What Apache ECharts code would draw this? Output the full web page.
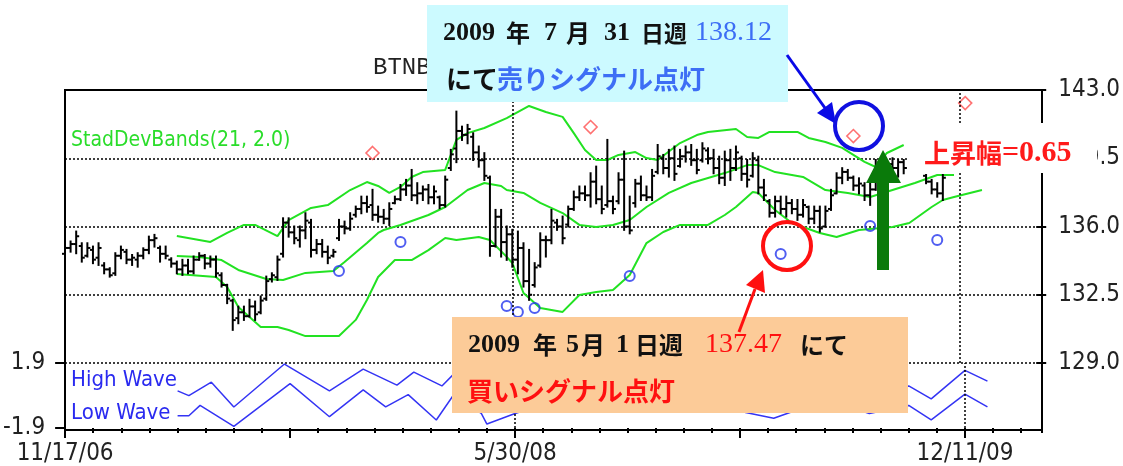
<!DOCTYPE html>
<html>
<head>
<meta charset="utf-8">
<script src="https://cdn.jsdelivr.net/npm/echarts@6/dist/echarts.min.js"></script>
<style>
  html, body { margin: 0; padding: 0; background: #fff; }
  #chart { width: 1123px; height: 466px; }
</style>
</head>
<body>
<div id="chart"></div>
<script>
// weekly bars, index = weeks since 11/17/06
const barOpen = [134.6,134.9,135.1,135.0,134.5,134.8,134.4,134.0,133.8,133.6,134.5,134.7,134.3,134.3,134.5,134.8,135.3,134.9,134.6,134.3,
  134.1,133.8,134.0,133.7,134.3,134.5,134.1,134.3,133.5,133.0,132.2,131.3,131.6,131.4,131.9,131.6,132.3,133.3,133.4,134.6,
  136.2,135.7,135.3,135.8,136.2,134.8,135.1,134.7,134.5,135.4,136.0,135.9,136.6,136.9,137.2,137.1,136.6,136.5,136.4,137.2,
  137.4,137.9,138.1,137.6,137.7,137.9,137.5,137.5,137.1,139.0,140.0,140.9,140.7,140.6,139.8,139.4,138.5,135.0,136.5,135.2,
  135.6,134.3,134.9,133.2,133.0,134.0,135.3,135.3,136.2,136.0,136.1,136.9,137.5,137.7,137.6,138.3,137.4,137.1,137.3,137.3,
  138.4,136.0,137.2,138.2,137.6,137.5,138.8,139.5,139.0,139.5,139.1,139.6,139.8,139.4,139.4,139.9,139.5,139.0,138.5,139.4,
  139.0,139.5,138.7,138.6,139.4,138.0,137.3,136.7,137.3,136.9,137.2,136.9,136.6,137.0,136.4,136.8,136.0,136.9,137.7,138.5,
  138.8,138.5,138.1,138.1,137.6,137.9,139.1,138.6,139.2,139.0,139.3,139.0,139.3,139.0,138.6,138.3,137.9,137.7];
const barHigh = [134.97,135.23,135.74,135.14,135.14,134.97,135.14,134.12,133.86,134.63,134.97,134.8,134.54,134.63,134.88,135.48,135.57,134.97,134.97,134.37,
  134.2,134.29,134.29,134.46,134.63,134.54,134.46,134.46,133.6,133.01,132.24,131.89,131.89,132.24,132.15,132.41,133.43,133.6,134.46,136.42,
  136.42,136.0,136.0,136.68,136.34,135.31,135.31,134.97,134.8,136.34,136.25,136.68,137.02,137.53,137.53,137.88,137.02,136.85,137.19,137.53,
  138.13,138.39,138.9,138.22,138.05,138.13,138.05,137.53,138.56,139.93,141.89,141.12,141.21,140.78,140.1,139.76,138.56,136.85,136.85,136.0,
  135.83,135.74,135.14,134.8,134.12,135.65,135.48,136.85,136.34,136.51,137.02,137.79,138.05,138.05,138.73,139.07,138.05,140.44,137.53,138.73,
  139.84,137.53,138.39,138.56,138.05,138.9,140.18,139.67,139.93,140.1,139.93,140.1,140.18,139.93,140.27,140.01,139.93,139.58,139.84,139.93,
  140.1,139.58,139.41,139.76,139.58,138.39,137.36,137.53,137.53,137.53,137.36,137.36,137.36,137.02,137.02,137.02,137.02,137.88,138.73,138.99,
  138.9,138.56,138.47,138.22,138.22,139.41,139.5,139.41,139.5,139.41,139.41,139.5,139.41,139.33,138.64,138.39,138.22,138.64];
const barLow = [134.46,134.71,134.63,134.2,134.46,134.12,134.03,133.6,133.43,133.52,134.37,134.12,134.03,133.94,134.37,134.63,134.97,134.2,134.37,133.94,
  133.6,133.52,133.6,133.6,134.29,133.86,133.94,133.43,132.92,132.07,130.7,131.04,131.21,131.38,131.21,131.55,132.24,133.18,133.26,134.46,
  135.48,135.14,134.97,135.4,134.46,134.63,134.46,134.12,134.46,135.31,135.65,135.83,136.51,136.68,136.76,136.34,136.25,136.17,136.08,137.19,
  137.36,137.62,137.36,137.19,137.36,137.19,137.19,136.94,137.02,138.9,139.3,140.44,140.27,139.41,139.07,138.39,134.5,134.97,134.46,134.29,
  133.94,133.6,132.92,132.24,132.92,133.94,134.46,135.14,135.83,135.14,136.0,136.85,137.36,137.36,137.02,137.19,136.68,137.02,136.68,137.19,
  135.83,135.65,137.02,137.36,137.36,137.36,138.73,138.73,138.56,138.39,139.07,139.33,139.16,138.73,139.33,139.24,138.73,138.22,138.13,138.39,
  138.9,138.39,138.05,138.56,137.7,137.36,136.51,136.51,136.68,136.51,136.68,136.34,136.51,136.17,136.17,135.74,136.0,136.85,137.7,138.22,
  138.39,137.88,137.7,137.36,137.11,137.88,138.05,138.22,138.82,138.56,138.73,138.9,138.82,138.82,138.22,137.7,137.53,137.36];
const barClose = [134.9,135.1,135.5,134.4,134.9,134.3,134.9,133.8,133.5,134.5,134.8,134.3,134.4,134.5,134.8,135.3,135.4,134.6,134.5,134.1,
  133.8,134.0,133.7,134.3,134.5,134.1,134.3,133.6,133.0,132.3,131.2,131.6,131.4,131.9,131.5,132.2,133.2,133.5,134.3,136.2,
  135.7,135.4,135.8,136.3,134.8,135.1,134.7,134.4,134.7,136.0,135.9,136.4,136.9,137.2,137.0,136.6,136.5,136.4,136.9,137.4,
  137.9,138.1,137.6,137.7,137.9,137.5,137.8,137.1,138.4,139.7,140.9,140.7,141.0,139.8,139.4,138.6,135.0,136.5,135.2,135.6,
  134.3,134.9,133.2,132.5,133.9,135.3,135.3,136.3,136.0,135.4,136.9,137.5,137.7,137.6,138.3,137.4,136.9,137.3,136.9,138.4,
  136.0,135.8,138.2,137.6,137.5,138.6,139.6,139.0,139.5,138.7,139.6,139.8,139.4,138.9,140.0,139.5,139.0,138.5,139.4,139.0,
  139.8,138.7,138.4,139.5,138.0,137.6,136.7,137.3,136.9,137.2,136.9,136.6,137.1,136.4,136.8,135.9,136.8,137.6,138.5,138.8,
  138.5,138.1,138.2,137.6,137.9,139.1,138.6,139.2,139.0,139.3,139.0,139.3,139.0,138.9,138.3,137.9,137.7,138.5];

// StadDevBands(21, 2.0): [week, price]
const upperBand = [[20,135.51],[26,135.21],[29,135.67],[32,136.08],[34,136.08],[38,135.51],[40,136.33],[44,136.95],[47,137.1],[51,137.87],
  [54,138.28],[56,138.08],[58,137.72],[60,138.03],[62,138.54],[64,138.79],[68,138.9],[70,140.44],[72,140.79],[75,141.05],[79,141.56],
  [83,142.18],[86,141.87],[89,141.62],[91,140.79],[93,139.92],[95,139.41],[97,139.41],[99,139.67],[102,139.82],[104,139.51],[106,139.41],
  [110,140.28],[113,140.69],[115,140.85],[120,141.0],[122,140.59],[124,140.54],[126,140.85],[131,140.85],[133,140.54],[136,140.33],
  [139,140.03],[141,139.67],[143,139.31],[145,139.05],[147,139.77],[150,140.18]];
const middleBand = [[20,134.49],[24,134.44],[28,134.28],[31,133.77],[36,133.31],[39,133.26],[43,133.62],[48,133.72],[50,134.18],[54,135.15],
  [56,135.67],[57,135.82],[60,136.08],[65,136.59],[68,137.0],[72,137.87],[75,138.23],[78,138.08],[79,137.87],[82,137.72],[85,137.21],
  [89,136.69],[92,136.08],[95,135.97],[98,136.08],[101,136.33],[104,137.0],[108,137.72],[112,138.23],[115,138.49],[118,138.74],[122,139.15],
  [124,139.15],[127,138.79],[132,138.54],[136,137.87],[140,137.72],[144,137.51],[148,137.87],[152,138.23],[156,138.64],[159,138.64]];
const lowerBand = [[20,133.56],[27,133.41],[29,132.9],[31,131.87],[35,130.85],[38,130.85],[40,130.69],[43,130.38],[49,130.38],[52,131.21],
  [54,132.23],[56,133.41],[59,134.28],[62,134.28],[65,134.79],[68,135.41],[70,135.31],[74,135.46],[76,135.31],[79,134.44],[80,134.13],
  [82,132.59],[85,131.82],[89,131.62],[92,132.49],[95,132.64],[98,132.74],[101,133.51],[104,135.15],[107,135.72],[110,136.08],[115,136.08],
  [118,136.59],[120,137.0],[123,137.77],[124,137.72],[127,136.85],[130,136.18],[135,135.67],[138,135.46],[142,135.82],[148,135.97],
  [151,136.18],[155,137.0],[157,137.36],[159,137.51],[164,137.87]];

// signals
const sellMarks = [[55,139.77],[94,141.1],[141,140.64],[161,142.33]];
const buyMarks = [[49,133.72],[60,135.21],[79,131.92],[81,131.62],[84,131.82],[101,133.46],[128,134.59],[144,136.03],[156,135.31]];

// lower panel
const highWave = [[20,0.27],[22,-0.01],[26,0.78],[30,-0.67],[39,1.84],[47,0.27],[53,1.54],[59,0.61],[62,1.37],[67,0.56],[69,1.22],
  [74,0.2],[75,-0.4],[80,0.2],[88,1.1],[96,0.2],[104,1.3],[112,0.5],[118,1.1],[121,0.3],[126,0.0],[130,0.4],[136,1.2],[143,0.2],
  [150,0.56],[154,-0.2],[160,1.47],[164,0.84]];
const lowWave = [[20,-1.18],[22,-1.18],[24,-0.58],[30,-1.8],[40,0.69],[47,-1.24],[53,0.33],[57,-0.67],[61,0.05],[66,-1.43],[69,0.0],
  [74,-1.05],[75,-1.67],[80,-1.05],[88,-0.2],[96,-0.8],[104,0.1],[112,-0.7],[118,-0.1],[121,-1.0],[126,-1.33],[130,-0.86],[136,-0.3],
  [143,-1.05],[150,-0.58],[154,-1.43],[160,0.08],[164,-0.67]];

const dateLabels = { 0: '11/17/06', 80: '5/30/08', 160: '12/11/09' };
const majorWeeks = [0, 40, 80, 120, 160];
const labelWeeks = [0, 80, 160];
const priceTicks = [129, 132.5, 136, 139.5, 143];
const waveTicks = [-1.9, 1.9];

const axisFont = "'DejaVu Sans Condensed', 'Liberation Sans Narrow', 'Liberation Sans', sans-serif";
const jpBold = "'Noto Sans CJK JP'";
const numSerif = "'Liberation Serif', 'Noto Sans CJK JP'";
const dotted = { color: '#000', type: [2, 2], width: 1.5 };
const weekMax = 173.7;

const ohlc = barOpen.map((o, i) => [i, o, barHigh[i], barLow[i], barClose[i]]);

function renderBar(params, api) {
  const w = api.value(0);
  const o = api.coord([w, api.value(1)]);
  const h = api.coord([w, api.value(2)]);
  const l = api.coord([w, api.value(3)]);
  const c = api.coord([w, api.value(4)]);
  const st = { stroke: '#000', lineWidth: 2 };
  return {
    type: 'group',
    children: [
      { type: 'line', shape: { x1: h[0], y1: h[1] - 1, x2: l[0], y2: l[1] + 1 }, style: st },
      { type: 'line', shape: { x1: o[0] - 3, y1: o[1], x2: o[0], y2: o[1] }, style: st },
      { type: 'line', shape: { x1: c[0], y1: c[1], x2: c[0] + 3, y2: c[1] }, style: st }
    ]
  };
}

function txt(x, y, text, font, fill) {
  return { type: 'text', z: 60, x: x, y: y, silent: true,
    style: { text: text, font: font, fill: fill, verticalAlign: 'middle', textVerticalAlign: 'middle' } };
}

const bandLine = (name, data, extra) => Object.assign({
  name: name, type: 'line', xAxisIndex: 0, yAxisIndex: 0, data: data,
  symbol: 'none', lineStyle: { color: '#22e222', width: 2 }, silent: true, z: 2
}, extra || {});

const vLines = {
  silent: true, symbol: 'none', label: { show: false }, lineStyle: dotted,
  data: [{ xAxis: 80 }, { xAxis: 160 }]
};

const chart = echarts.init(document.getElementById('chart'));

chart.setOption({
  animation: false,
  backgroundColor: '#fff',
  title: {
    text: 'BTNB', left: 368, top: 51,
    textStyle: { fontFamily: "'Liberation Mono', monospace", fontSize: 24, fontWeight: 'normal', color: '#222' }
  },
  grid: [
    { left: 65, top: 90, width: 977, height: 273 },
    { left: 65, top: 363, width: 977, height: 67 }
  ],
  xAxis: [
    { type: 'value', gridIndex: 0, min: 0, max: weekMax, show: false },
    {
      type: 'value', gridIndex: 1, min: 0, max: weekMax, position: 'bottom',
      axisLine: { show: false, onZero: false },
      axisTick: { show: true, length: 10, customValues: majorWeeks, lineStyle: { color: '#000', width: 2 } },
      axisLabel: {
        customValues: labelWeeks, margin: 14, color: '#222', fontSize: 24, fontFamily: axisFont,
        formatter: v => dateLabels[v] || ''
      },
      splitLine: { show: false }
    },
    {
      type: 'value', gridIndex: 1, min: 0, max: weekMax, interval: 5, position: 'bottom',
      axisLine: { show: false, onZero: false },
      axisTick: { show: true, length: 5, lineStyle: { color: '#000', width: 2 } },
      axisLabel: { show: false },
      splitLine: { show: false }
    }
  ],
  yAxis: [
    {
      type: 'value', gridIndex: 0, position: 'right', min: 129, max: 143,
      axisLine: { show: false, onZero: false },
      axisTick: { show: true, length: 10, customValues: priceTicks, lineStyle: { color: '#000', width: 2 } },
      axisLabel: {
        customValues: priceTicks, margin: 22, color: '#222', fontSize: 24, fontFamily: axisFont,
        formatter: v => v.toFixed(1)
      },
      splitLine: { show: true, lineStyle: dotted }
    },
    {
      type: 'value', gridIndex: 1, position: 'left', min: -1.9, max: 1.9,
      axisLine: { show: false, onZero: false },
      axisTick: { show: true, length: 10, customValues: waveTicks, lineStyle: { color: '#000', width: 2 } },
      axisLabel: {
        customValues: waveTicks, margin: 20, color: '#222', fontSize: 24, fontFamily: axisFont,
        formatter: v => v.toFixed(1)
      },
      splitLine: { show: false }
    }
  ],
  series: [
    bandLine('upper', upperBand, { markLine: vLines }),
    bandLine('middle', middleBand),
    bandLine('lower', lowerBand),
    {
      name: 'BTNB', type: 'custom', xAxisIndex: 0, yAxisIndex: 0,
      renderItem: renderBar, data: ohlc, encode: { x: 0, y: [1, 2, 3, 4] }, silent: true, z: 3
    },
    {
      name: 'sell', type: 'scatter', xAxisIndex: 0, yAxisIndex: 0, data: sellMarks,
      symbol: 'diamond', symbolSize: 13, silent: true, z: 4,
      itemStyle: { color: 'rgba(255,255,255,0)', borderColor: '#ff4d4d', borderWidth: 1.6 }
    },
    {
      name: 'buy', type: 'scatter', xAxisIndex: 0, yAxisIndex: 0, data: buyMarks,
      symbol: 'circle', symbolSize: 10, silent: true, z: 4,
      itemStyle: { color: 'rgba(255,255,255,0)', borderColor: '#2436ee', borderWidth: 2 }
    },
    {
      name: 'High Wave', type: 'line', xAxisIndex: 1, yAxisIndex: 1, data: highWave,
      symbol: 'none', lineStyle: { color: '#3434f4', width: 1.5 }, silent: true
    },
    {
      name: 'Low Wave', type: 'line', xAxisIndex: 1, yAxisIndex: 1, data: lowWave,
      symbol: 'none', lineStyle: { color: '#3434f4', width: 1.5 }, silent: true, markLine: vLines
    }
  ],
  graphic: [
    { type: 'rect', z: 50, silent: true, shape: { x: 65, y: 90, width: 977, height: 340 },
      style: { fill: 'none', stroke: '#000', lineWidth: 2 } },
    txt(71, 141, 'StadDevBands(21, 2.0)', '21px ' + axisFont, '#2add2a'),
    txt(71, 380, 'High Wave', '22px ' + axisFont, '#2a2af0'),
    txt(71, 413, 'Low Wave', '22px ' + axisFont, '#2a2af0'),

    // sell callout
    { type: 'rect', z: 55, silent: true, shape: { x: 427, y: 5, width: 361, height: 97 }, style: { fill: '#ccfaff' } },
    txt(443, 33, '2009', 'bold 26px ' + numSerif, '#111'),
    txt(506, 33, '年', 'bold 24px ' + jpBold, '#111'),
    txt(544, 33, '7', 'bold 26px ' + numSerif, '#111'),
    txt(566, 33, '月', 'bold 24px ' + jpBold, '#111'),
    txt(604, 33, '31', 'bold 26px ' + numSerif, '#111'),
    txt(641, 33, '日週', 'bold 23px ' + jpBold, '#111'),
    txt(695, 33, '138.12', '28px ' + numSerif, '#3d6ef5'),
    txt(446, 79, 'にて', 'bold 26px ' + jpBold, '#111'),
    txt(497, 79, '売りシグナル点灯', 'bold 26px ' + jpBold, '#3d6ef5'),

    // buy callout
    { type: 'rect', z: 55, silent: true, shape: { x: 452, y: 317, width: 456, height: 96 }, style: { fill: '#fccb98' } },
    txt(468, 345, '2009', 'bold 26px ' + numSerif, '#111'),
    txt(533, 345, '年', 'bold 24px ' + jpBold, '#111'),
    txt(566, 345, '5', 'bold 26px ' + numSerif, '#111'),
    txt(581, 345, '月', 'bold 24px ' + jpBold, '#111'),
    txt(616, 345, '1', 'bold 26px ' + numSerif, '#111'),
    txt(635, 345, '日週', 'bold 24px ' + jpBold, '#111'),
    txt(705, 345, '137.47', '28px ' + numSerif, '#ff1010'),
    txt(800, 345, 'にて', 'bold 24px ' + jpBold, '#111'),
    txt(467, 391, '買いシグナル点灯', 'bold 26px ' + jpBold, '#ff1010'),

    // rise note
    { type: 'rect', z: 55, silent: true, shape: { x: 907, y: 123, width: 190, height: 50 }, style: { fill: '#fff' } },
    txt(924, 153, '上昇幅', 'bold 26px ' + jpBold, '#ff1a1a'),
    txt(1002, 153, '=0.65', 'bold 30px ' + numSerif, '#ff1a1a'),

    // arrows and circles
    { type: 'line', z: 62, silent: true, shape: { x1: 787, y1: 55, x2: 825, y2: 108 }, style: { stroke: '#0a0ae6', lineWidth: 3 } },
    { type: 'polygon', z: 62, silent: true, shape: { points: [[836, 124], [817, 113], [832, 102]] }, style: { fill: '#0a0ae6' } },
    { type: 'circle', z: 62, silent: true, shape: { cx: 859, cy: 126, r: 24 }, style: { fill: 'none', stroke: '#1010e0', lineWidth: 4 } },
    { type: 'circle', z: 62, silent: true, shape: { cx: 787, cy: 246, r: 24 }, style: { fill: 'none', stroke: '#ff1010', lineWidth: 4 } },
    { type: 'line', z: 62, silent: true, shape: { x1: 739, y1: 332, x2: 755, y2: 289 }, style: { stroke: '#ff1010', lineWidth: 3 } },
    { type: 'polygon', z: 62, silent: true, shape: { points: [[763, 270], [765, 293], [746, 285]] }, style: { fill: '#ff1010' } },
    { type: 'polygon', z: 62, silent: true,
      shape: { points: [[866, 183], [883, 150], [901, 183], [889, 183], [889, 270], [877, 270], [877, 183]] },
      style: { fill: '#0a7a0a' } }
  ]
});
</script>
</body>
</html>
